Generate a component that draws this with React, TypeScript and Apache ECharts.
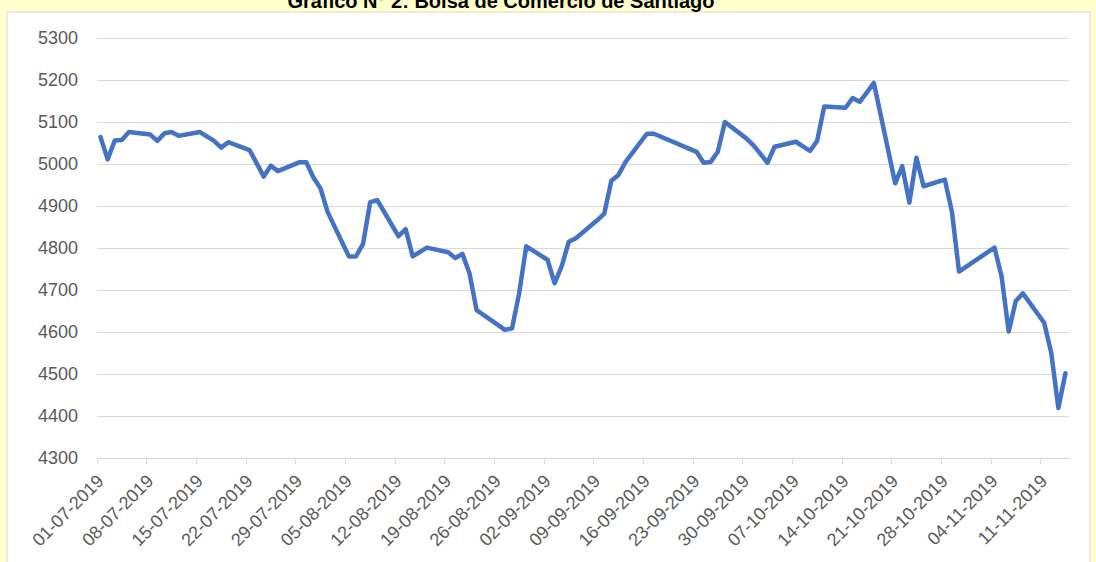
import React, { useEffect, useRef } from "react";
import * as echarts from "echarts";

const TITLE = "Gráfico N° 2: Bolsa de Comercio de Santiago";
const AXIS_START = "01-07-2019";
const AXIS_END = "15-11-2019";

const xTickLabels = [
  "01-07-2019", "08-07-2019", "15-07-2019", "22-07-2019", "29-07-2019",
  "05-08-2019", "12-08-2019", "19-08-2019", "26-08-2019", "02-09-2019",
  "09-09-2019", "16-09-2019", "23-09-2019", "30-09-2019", "07-10-2019",
  "14-10-2019", "21-10-2019", "28-10-2019", "04-11-2019", "11-11-2019",
];

const dates = [
  "01-07-2019", "02-07-2019", "03-07-2019", "04-07-2019", "05-07-2019",
  "08-07-2019", "09-07-2019", "10-07-2019", "11-07-2019", "12-07-2019",
  "15-07-2019", "17-07-2019", "18-07-2019", "19-07-2019",
  "22-07-2019", "23-07-2019", "24-07-2019", "25-07-2019", "26-07-2019",
  "29-07-2019", "30-07-2019", "31-07-2019", "01-08-2019", "02-08-2019",
  "05-08-2019", "06-08-2019", "07-08-2019", "08-08-2019", "09-08-2019",
  "12-08-2019", "13-08-2019", "14-08-2019", "16-08-2019",
  "19-08-2019", "20-08-2019", "21-08-2019", "22-08-2019", "23-08-2019",
  "26-08-2019", "27-08-2019", "28-08-2019", "29-08-2019", "30-08-2019",
  "02-09-2019", "03-09-2019", "04-09-2019", "05-09-2019", "06-09-2019",
  "09-09-2019", "10-09-2019", "11-09-2019", "12-09-2019", "13-09-2019",
  "16-09-2019", "17-09-2019",
  "23-09-2019", "24-09-2019", "25-09-2019", "26-09-2019", "27-09-2019",
  "30-09-2019", "01-10-2019", "02-10-2019", "03-10-2019", "04-10-2019",
  "07-10-2019", "08-10-2019", "09-10-2019", "10-10-2019", "11-10-2019",
  "14-10-2019", "15-10-2019", "16-10-2019", "17-10-2019", "18-10-2019",
  "21-10-2019", "22-10-2019", "23-10-2019", "24-10-2019", "25-10-2019",
  "28-10-2019", "29-10-2019", "30-10-2019",
  "04-11-2019", "05-11-2019", "06-11-2019", "07-11-2019", "08-11-2019",
  "11-11-2019", "12-11-2019", "13-11-2019", "14-11-2019",
];

const values = [
  5064, 5011, 5056, 5057, 5076,
  5070, 5055, 5073, 5076, 5067,
  5076, 5055, 5039, 5052,
  5033, 5002, 4970, 4996, 4983,
  5004, 5004, 4968, 4942, 4886,
  4780, 4780, 4810, 4909, 4914,
  4828, 4845, 4780, 4801,
  4790, 4776, 4786, 4740, 4652,
  4617, 4605, 4609, 4692, 4804,
  4772, 4716, 4757, 4815, 4823,
  4866, 4882, 4960, 4974, 5005,
  5072, 5072,
  5029, 5003, 5005, 5029, 5100,
  5061, 5045, 5024, 5003, 5041,
  5053, 5042, 5031, 5055, 5137,
  5134, 5157, 5148, 5170, 5193,
  4954, 4995, 4908, 5015, 4947,
  4963, 4886, 4744,
  4801, 4732, 4601, 4674, 4692,
  4622, 4550, 4419, 4502,
];

const Y_MIN = 4300;
const Y_MAX = 5300;
const Y_STEP = 100;

function toUTC(s: string): number {
  const [d, m, y] = s.split("-").map(Number);
  return Date.UTC(y, m - 1, d);
}
const T0 = toUTC(AXIS_START);
function dayIndex(s: string): number {
  return Math.round((toUTC(s) - T0) / 86400000);
}
function pad(n: number) {
  return n < 10 ? "0" + n : "" + n;
}
function fmtDay(idx: number): string {
  const dt = new Date(T0 + Math.floor(idx + 1e-6) * 86400000);
  return pad(dt.getUTCDate()) + "-" + pad(dt.getUTCMonth() + 1) + "-" + dt.getUTCFullYear();
}

export default function App() {
  const ref = useRef<HTMLDivElement>(null);
  useEffect(() => {
    document.body.style.margin = "0";
    if (!ref.current) return;
    const chart = echarts.init(ref.current, undefined, { renderer: "svg" });
    const font = "'Liberation Sans', Arial, sans-serif";
    chart.setOption({
      animation: false,
      backgroundColor: "#FFFFCC",
      graphic: [
        {
          type: "rect",
          shape: { x: 7, y: 12, width: 1083, height: 570 },
          style: { fill: "#FFFFFF", stroke: "#D9D9D9", lineWidth: 1 },
          z: -10,
          silent: true,
        },
        {
          type: "text",
          x: 501,
          y: 11,
          style: {
            text: TITLE,
            font: `bold 20px ${font}`,
            fill: "#000000",
            textAlign: "center",
            textVerticalAlign: "bottom",
          },
          z: 10,
        },
      ],
      grid: { left: 97, right: 27, top: 38, bottom: 104, containLabel: false },
      xAxis: {
        type: "value",
        min: 0,
        max: dayIndex(AXIS_END),
        axisLine: { show: true, lineStyle: { color: "#D9D9D9", width: 1 } },
        axisTick: {
          show: true,
          length: 6,
          lineStyle: { color: "#D9D9D9" },
          customValues: xTickLabels.map(dayIndex),
        },
        axisLabel: {
          rotate: 45,
          margin: 20,
          color: "#595959",
          fontSize: 18,
          fontFamily: font,
          customValues: xTickLabels.map((d) => dayIndex(d) + 0.5),
          formatter: (v: number) => fmtDay(v),
          showMinLabel: true,
          showMaxLabel: true,
        },
        splitLine: { show: false },
      },
      yAxis: {
        type: "value",
        min: Y_MIN,
        max: Y_MAX,
        interval: Y_STEP,
        axisLine: { show: false },
        axisTick: { show: false },
        axisLabel: {
          color: "#595959",
          fontSize: 18,
          fontFamily: font,
          margin: 19,
          formatter: (v: number) => String(v),
        },
        splitLine: { lineStyle: { color: "#D9D9D9", width: 1 } },
      },
      series: [
        {
          type: "line",
          data: dates.map((d, i) => [dayIndex(d) + 0.5, values[i]]),
          showSymbol: false,
          symbol: "none",
          lineStyle: { color: "#4472C4", width: 4.5, cap: "round", join: "round" },
        },
      ],
    });
    return () => chart.dispose();
  }, []);
  return <div ref={ref} style={{ width: 1096, height: 562 }} />;
}
